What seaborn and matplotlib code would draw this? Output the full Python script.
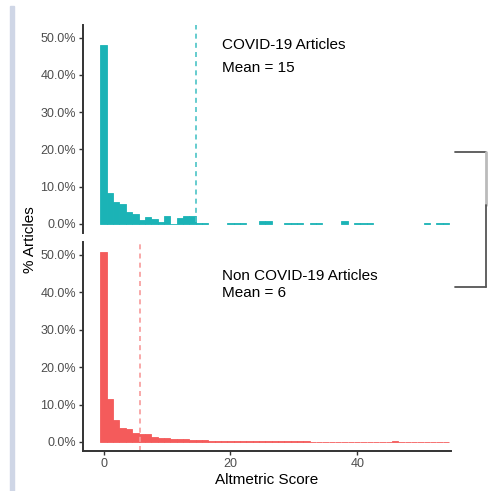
import matplotlib
matplotlib.use("Agg")
import matplotlib.pyplot as plt
import numpy as np
import pandas as pd
import seaborn as sns
from matplotlib.lines import Line2D
from matplotlib.patches import Rectangle
from matplotlib.ticker import PercentFormatter

# altmetric score bins (integer centred) and share of articles (%)
scores = list(range(0, 55))
covid_pct = [
    48.0, 8.2, 6.0, 5.5, 3.1, 2.6, 1.1, 2.0, 1.25, 0.6,
    2.1, 0.1, 1.7, 2.1, 2.1, 0.3, 0.3, 0.0, 0.0, 0.0,
    0.3, 0.3, 0.3, 0.0, 0.0, 0.7, 0.7, 0.0, 0.0, 0.3,
    0.3, 0.3, 0.0, 0.3, 0.3, 0.0, 0.0, 0.0, 0.7, 0.0,
    0.3, 0.3, 0.3, 0.0, 0.0, 0.0, 0.0, 0.0, 0.0, 0.0,
    0.0, 0.3, 0.0, 0.3, 0.3,
]
noncovid_pct = [
    50.7, 11.6, 5.9, 3.8, 3.5, 2.3, 2.0, 2.0, 1.3, 1.1,
    1.1, 0.7, 0.7, 0.7, 0.45, 0.45, 0.45, 0.3, 0.3, 0.15,
    0.25, 0.25, 0.15, 0.15, 0.15, 0.28, 0.15, 0.15, 0.15, 0.15,
    0.15, 0.15, 0.15, 0.1, 0.1, 0.12, 0.1, 0.12, 0.1, 0.12,
    0.1, 0.12, 0.1, 0.12, 0.1, 0.12, 0.25, 0.1, 0.1, 0.1,
    0.1, 0.1, 0.08, 0.08, 0.08,
]
groups = ["COVID-19 Articles", "Non COVID-19 Articles"]
means = [14.5, 5.8]
mean_labels = ["Mean = 15", "Mean = 6"]

df = pd.DataFrame({
    "score": scores * 2,
    "share": [v / 100 for v in covid_pct] + [v / 100 for v in noncovid_pct],
    "group": [groups[0]] * len(scores) + [groups[1]] * len(scores),
})

sns.set_theme(style="white")
plt.rcParams["font.family"] = ["Liberation Sans", "DejaVu Sans"]

fill_cols = ["#1bb3b6", "#f45b5b"]
line_cols = ["#4cc3c6", "#f79999"]
axis_col = "#333333"
tick_col = "#4d4d4d"
ylo, yhi = -0.0241, 0.534

fig = plt.figure(figsize=(4.96, 4.91), dpi=100)
ax_top = fig.add_axes([0.1673, 0.5255, 0.742, 0.4236])
ax_bot = fig.add_axes([0.1673, 0.0815, 0.742, 0.4257])

for i, ax in enumerate([ax_top, ax_bot]):
    sub = df[df["group"] == groups[i]]
    sns.histplot(data=sub, x="score", weights="share", discrete=True,
                 color=fill_cols[i], edgecolor=fill_cols[i], alpha=1,
                 linewidth=0.6, ax=ax)
    # empty bins should leave a gap, not an edge line
    for p in ax.patches:
        if p.get_height() <= 0:
            p.set_linewidth(0)
            p.set_visible(False)
    ax.set_xlim(-3.26, 54.8)
    ax.set_ylim(ylo, yhi)
    ax.set_yticks(np.arange(0, 0.51, 0.1))
    ax.yaxis.set_major_formatter(PercentFormatter(1.0, decimals=1))
    ax.set_xlabel("")
    ax.set_ylabel("")
    for s in ["top", "right"]:
        ax.spines[s].set_visible(False)
    ax.spines["left"].set_color(axis_col)
    ax.spines["left"].set_linewidth(1.4)
    ax.tick_params(axis="y", which="both", left=True, length=3, width=1,
                   color=axis_col, labelsize=9, labelcolor=tick_col, pad=2)

# mean lines (top one stops at the baseline)
ax_top.axvline(means[0], ymin=(0.006 - ylo) / (yhi - ylo), color=line_cols[0],
               linestyle=(0, (3, 2.5)), linewidth=1.2)
ax_bot.axvline(means[1], color=line_cols[1], linestyle=(0, (3, 2.5)), linewidth=1.2)

# top panel: no x axis
ax_top.spines["bottom"].set_visible(False)
ax_top.set_xticks([])
ax_bot.spines["bottom"].set_color(axis_col)
ax_bot.spines["bottom"].set_linewidth(1.4)
ax_bot.set_xticks([0, 20, 40])
ax_bot.tick_params(axis="x", which="both", bottom=True, length=3, width=1,
                   color=axis_col, labelsize=9, labelcolor=tick_col, pad=2)

ax_top.text(18.7, 0.48, groups[0], fontsize=11, va="center", ha="left", color="black")
ax_top.text(18.7, 0.419, mean_labels[0], fontsize=11, va="center", ha="left", color="black")
ax_bot.text(18.6, 0.444, groups[1], fontsize=11, va="center", ha="left", color="black")
ax_bot.text(18.6, 0.398, mean_labels[1], fontsize=11, va="center", ha="left", color="black")

fig.text(30 / 496, 1 - 240 / 491, "% Articles", rotation=90, fontsize=11,
         ha="center", va="center", color="black")
fig.text(267 / 496, 1 - 480 / 491, "Altmetric Score", fontsize=11,
         ha="center", va="center", color="black")

# screenshot leftovers: side bar on the left and bracket on the right
W, H = 496, 491
fig.patches.append(Rectangle((10 / W, 0), 4 / W, 1 - 6 / H, transform=fig.transFigure,
                             color="#cfd6e6", zorder=0))


def fline(xs, ys, col, lw=1.3):
    fig.add_artist(Line2D([x / W for x in xs], [1 - y / H for y in ys],
                          transform=fig.transFigure, color=col, linewidth=lw))


fline([455, 486], [152, 152], "#555555")
fline([486, 486], [152, 205], "#bbbbbb", 2)
fline([486, 486], [205, 287], "#555555")
fline([455, 486], [287, 287], "#555555")

fig.savefig("out.png", dpi=100)
